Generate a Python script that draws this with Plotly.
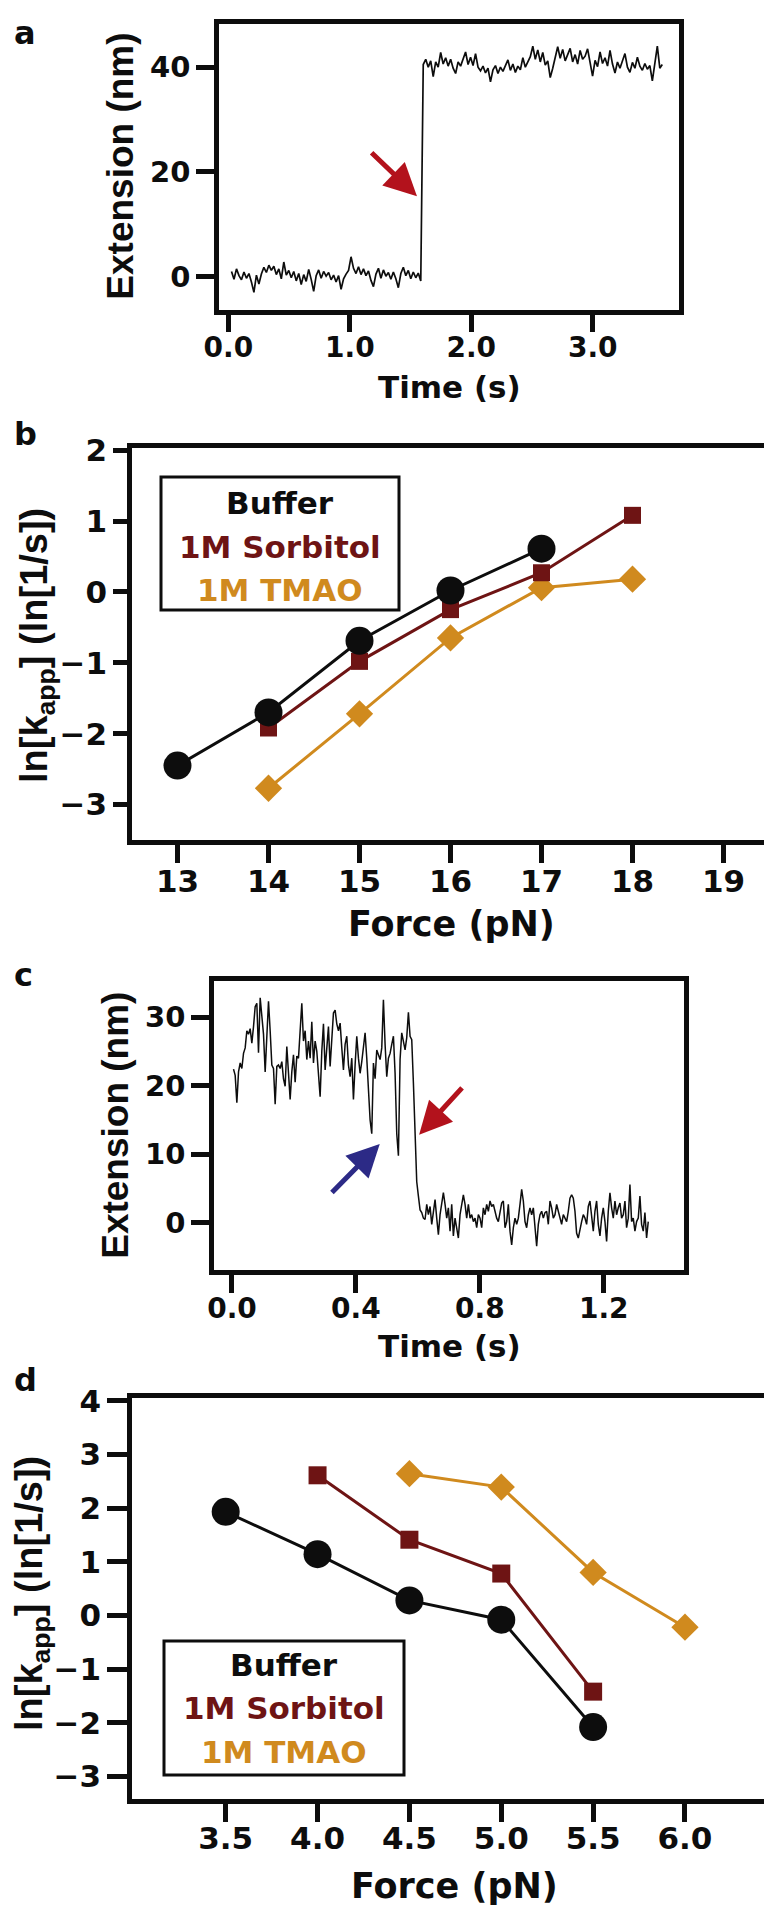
import numpy as np
import plotly.graph_objects as go

W, H = 772, 1907

# ---------------- Panel a : extension trace ----------------
A_T0, A_DT = 0.026, 0.0205
a_extension = [
    1.0, -0.5, 1.5, 0.2, -0.6, 0.9, -0.3, 0.6, -1.0, -3.0,
    0.3, -1.4, 0.5, 1.8, 0.8, 2.2, 1.2, 2.0, 0.4, 1.5,
    -0.4, 2.8, 0.3, 1.2, -0.2, 1.0, -0.8, 0.6, -1.5, 0.4,
    -0.9, 1.4, -0.5, -2.8, 0.2, 1.3, -0.3, 1.0, 0.1, 0.8,
    -0.6, 0.3, -1.0, 0.2, -2.4, -0.4, 0.5, 1.2, 3.8, 1.6,
    0.6, 1.9, 0.4, 1.5, 0.2, 1.1, -0.7, -1.9, 0.5, 1.6,
    -0.3, 1.3, 0.1, 0.8, -0.5, 0.9, -0.4, -2.1, 0.6, 1.8,
    0.2, 1.2, -0.4, 0.9, -0.2, 0.7, -0.8,
    40.5, 41.5, 40.0, 41.2, 38.2, 41.0, 40.0, 42.8, 40.6, 41.8,
    40.2, 41.5, 39.8, 38.8, 41.0, 40.2, 41.7, 42.9, 40.5, 41.9,
    40.3, 42.6, 40.0, 39.3, 40.2, 38.9, 39.8, 37.2, 39.5, 40.3,
    38.8, 40.0, 39.2, 40.5, 41.4, 39.4, 40.6, 39.0, 40.2, 39.5,
    41.8, 40.0, 40.9, 42.0, 44.0, 41.5, 43.3, 41.0, 42.8, 40.4,
    41.2, 38.0, 39.8, 41.6, 43.9, 41.7, 43.4, 41.2, 42.3, 43.6,
    41.0, 42.4, 40.6, 43.2, 41.5, 42.1, 43.5, 40.8, 38.3, 41.3,
    40.1, 42.9, 40.7, 41.8, 40.2, 43.2, 40.6, 38.9, 41.0, 39.8,
    41.3, 42.6, 40.0, 39.0, 40.9, 39.8, 41.9, 40.2, 39.4, 40.7,
    39.6, 40.3, 37.4, 40.5, 44.0, 39.8, 40.5,
]
a_xticks = [0, 1, 2, 3]
a_xticklabels = ["0.0", "1.0", "2.0", "3.0"]
a_yticks = [0, 20, 40]

# ---------------- Panel b : ln k vs force ----------------
b_force_buffer = [13, 14, 15, 16, 17]
b_lnk_buffer = [-2.45, -1.70, -0.69, 0.02, 0.61]
b_force_sorb = [14, 15, 16, 17, 18]
b_lnk_sorb = [-1.92, -0.98, -0.25, 0.27, 1.08]
b_force_tmao = [14, 15, 16, 17, 18]
b_lnk_tmao = [-2.77, -1.72, -0.65, 0.06, 0.18]
b_xticks = [13, 14, 15, 16, 17, 18, 19]
b_yticks = [-3, -2, -1, 0, 1, 2]

# ---------------- Panel c : extension trace ----------------
C_T0, C_DT = 0.005, 0.005376
c_extension = [
    22.4, 21.5, 17.5, 22.0, 23.3, 22.5, 24.7, 25.5, 28.0, 27.5,
    28.3, 26.2, 28.6, 31.5, 32.0, 24.8, 32.8, 30.0, 27.5, 22.0,
    27.0, 32.3, 28.0, 23.0, 22.5, 17.3, 22.8, 23.0, 22.5, 23.5,
    21.0, 19.9, 25.7, 21.5, 18.0, 22.0, 24.5, 20.5, 24.3, 24.0,
    27.5, 32.0, 26.5, 28.0, 23.8, 26.5, 24.0, 29.3, 23.3, 26.5,
    25.0, 22.0, 18.4, 25.0, 29.0, 22.3, 26.0, 28.6, 22.8, 27.0,
    30.6, 31.0, 29.0, 28.0, 29.1, 25.5, 22.3, 26.0, 27.2, 23.0,
    21.3, 24.0, 18.0, 23.0, 27.2, 24.0, 21.8, 23.5, 25.7, 27.7,
    24.0, 19.0, 15.0, 13.0, 23.3, 21.0, 25.2, 24.5, 23.8, 25.5,
    32.5, 26.0, 21.3, 24.0, 24.7, 26.0, 27.2, 21.8, 13.0, 9.8,
    23.8, 27.7, 26.5, 25.2, 27.0, 30.7, 27.2, 26.7, 20.4,
    12.0, 6.0, 3.9, 1.9, 1.5, 0.7, 0.5, 2.7, 1.2, 2.4,
    -0.2, 1.7, 3.4, 0.7, -1.7, 1.2, 2.7, 4.4, 2.7, 0.7,
    2.2, -1.2, 2.7, -1.9, 0.7, -0.7, -2.2, 1.2, 2.7, 4.1,
    2.7, 0.7, 2.7, 0.7, 1.2, 0.2, 0.7, -0.7, 1.2, 0.7,
    -0.7, 2.2, 1.2, 2.7, 1.7, 3.2, 2.4, 2.7, 1.7, 0.7,
    0.2, 1.7, 2.9, 3.2, -0.7, 0.2, 2.7, -1.2, -3.2, -0.7,
    0.7, -0.2, 0.7, 2.7, 4.9, 3.2, 0.2, -0.7, 1.2, 2.2,
    1.2, 2.2, -1.2, -3.4, -0.2, 1.2, 1.7, 0.7, 1.5, 1.7,
    -0.2, 3.2, 2.2, 0.7, 1.2, 2.7, 1.7, 0.7, -0.2, 1.2,
    0.7, 0.2, 1.7, 3.6, 4.1, 3.6, 1.7, -1.5, -2.2, -0.7,
    0.2, 1.2, 0.7, -0.2, 2.4, 3.2, 0.7, -1.2, 1.7, 3.2,
    -0.2, -1.9, 0.7, 2.2, 0.2, -2.7, 1.7, 4.4, 2.2, 0.7,
    3.2, 1.2, 2.2, 2.9, 0.7, 1.2, 3.2, -0.7, 0.7, 5.6,
    0.2, 0.7, -1.2, 0.2, 0.7, 3.9, -0.2, -1.2, 1.5, -2.2,
    0.2,
]
c_xticks = [0, 0.4, 0.8, 1.2]
c_xticklabels = ["0.0", "0.4", "0.8", "1.2"]
c_yticks = [0, 10, 20, 30]

# ---------------- Panel d : ln k vs force ----------------
d_force_buffer = [3.5, 4.0, 4.5, 5.0, 5.5]
d_lnk_buffer = [1.93, 1.14, 0.28, -0.08, -2.08]
d_force_sorb = [4.0, 4.5, 5.0, 5.5]
d_lnk_sorb = [2.61, 1.41, 0.78, -1.42]
d_force_tmao = [4.5, 5.0, 5.5, 6.0]
d_lnk_tmao = [2.64, 2.39, 0.80, -0.22]
d_xticks = [3.5, 4.0, 4.5, 5.0, 5.5, 6.0]
d_xticklabels = ["3.5", "4.0", "4.5", "5.0", "5.5", "6.0"]
d_yticks = [-3, -2, -1, 0, 1, 2, 3, 4]

series_names = ["Buffer", "1M Sorbitol", "1M TMAO"]

BLACK = "#0d0d0d"
SORB = "#6e1414"
TMAO = "#d08a1e"
RED = "#b3121c"
BLUE = "#2c2a86"
WIDE = "DejaVu Sans, Verdana, sans-serif"
NARROW = "Liberation Sans, Arial, Helvetica, sans-serif"


def px_x(p):
    return p / W


def px_y(p):
    return 1 - p / H


fig = go.Figure()

a_time = A_T0 + A_DT * np.arange(len(a_extension))
fig.add_trace(go.Scatter(x=a_time, y=a_extension, mode="lines",
                         line=dict(color=BLACK, width=1.7), xaxis="x", yaxis="y"))

c_time = C_T0 + C_DT * np.arange(len(c_extension))
fig.add_trace(go.Scatter(x=c_time, y=c_extension, mode="lines",
                         line=dict(color=BLACK, width=1.5), xaxis="x3", yaxis="y3"))


def add_series(xs, ys, color, symbol, size, xa, ya):
    fig.add_trace(go.Scatter(x=xs, y=ys, mode="lines+markers",
                             line=dict(color=color, width=3),
                             marker=dict(color=color, symbol=symbol, size=size,
                                         line=dict(width=0)),
                             xaxis=xa, yaxis=ya))


add_series(b_force_tmao, b_lnk_tmao, TMAO, "diamond", 21, "x2", "y2")
add_series(b_force_sorb, b_lnk_sorb, SORB, "square", 17, "x2", "y2")
add_series(b_force_buffer, b_lnk_buffer, BLACK, "circle", 28, "x2", "y2")

add_series(d_force_tmao, d_lnk_tmao, TMAO, "diamond", 21, "x4", "y4")
add_series(d_force_sorb, d_lnk_sorb, SORB, "square", 18, "x4", "y4")
add_series(d_force_buffer, d_lnk_buffer, BLACK, "circle", 28, "x4", "y4")


def font(size, color=BLACK, family=WIDE):
    return dict(family=family, size=size, color=color, weight="bold")


def ax(domain, rng, tickvals, ticktext=None, anchor="x", ticklen=18, tsize=28,
       lstand=0):
    d = dict(domain=domain, range=rng, tickvals=tickvals,
             showline=True, linewidth=4.5, linecolor=BLACK, mirror=True,
             ticks="outside", ticklen=ticklen, tickwidth=4.5, tickcolor=BLACK,
             showgrid=False, zeroline=False, tickfont=font(tsize),
             ticklabelstandoff=lstand,
             anchor=anchor, fixedrange=True, automargin=False)
    if ticktext is not None:
        d["ticktext"] = ticktext
    return d


lnk_title = "ln[k<sub>app</sub>] (ln[1/s])"

fig.update_layout(
    width=W, height=H,
    margin=dict(l=0, r=0, t=0, b=0, pad=0),
    paper_bgcolor="white", plot_bgcolor="white",
    showlegend=False,
    xaxis=ax([px_x(211), px_x(671)], [-0.077, 3.71], a_xticks, a_xticklabels,
             anchor="y", lstand=-9),
    yaxis=ax([px_y(301.7), px_y(15.7)], [-6.3, 48.3], a_yticks, None, anchor="x",
             tsize=29),
    xaxis2=ax([px_x(124), px_x(761)], [12.5, 19.5], b_xticks, None,
              anchor="y2", tsize=31, lstand=-8),
    yaxis2=ax([px_y(832), px_y(440)], [-3.5, 2.03], b_yticks, None,
              anchor="x2", ticklen=14, tsize=31),
    xaxis3=ax([px_x(206), px_x(676)], [-0.058, 1.459], c_xticks, c_xticklabels,
              anchor="y3", lstand=-9),
    yaxis3=ax([px_y(1262.3), px_y(973.3)], [-6.9, 35.2], c_yticks, None, anchor="x3",
              tsize=29),
    xaxis4=ax([px_x(124), px_x(767)], [2.99, 6.49], d_xticks, d_xticklabels,
              anchor="y4", tsize=31, lstand=-10),
    yaxis4=ax([px_y(1791), px_y(1390)], [-3.42, 4.05], d_yticks, None,
              anchor="x4", ticklen=20, tsize=31),
)

# axis titles (placed as text)
axis_titles = [
    ("Time (s)", 441, 379, 0, 31, WIDE),
    ("Extension (nm)", 113, 158.7, -90, 37, NARROW),
    ("Force (pN)", 443, 916, 0, 35, WIDE),
    (lnk_title, 29, 638, -90, 38, NARROW),
    ("Time (s)", 441, 1338, 0, 31, WIDE),
    ("Extension (nm)", 108, 1117.8, -90, 37, NARROW),
    ("Force (pN)", 446, 1878, 0, 35, WIDE),
    (lnk_title, 24, 1586, -90, 38, NARROW),
]
for txt, xc, yc, ang, sz, fam in axis_titles:
    fig.add_annotation(x=px_x(xc), y=px_y(yc), xref="paper", yref="paper",
                       text=txt, showarrow=False, textangle=ang,
                       xanchor="center", yanchor="middle", font=font(sz, BLACK, fam))

# panel letters
for letter, yc in [("a", 25), ("b", 426), ("c", 967), ("d", 1372)]:
    fig.add_annotation(x=px_x(4), y=px_y(yc), xref="paper", yref="paper",
                       text=letter, showarrow=False, xanchor="left", yanchor="middle",
                       font=font(32))

# legends
colors = [BLACK, SORB, TMAO]
for (x0, x1, y0, y1, ys) in [(153, 391, 469, 602, [495, 538.5, 582]),
                             (156, 396, 1633, 1767, [1656.5, 1700, 1743.5])]:
    fig.add_shape(type="rect", xref="paper", yref="paper",
                  x0=px_x(x0), x1=px_x(x1), y0=px_y(y1), y1=px_y(y0),
                  line=dict(color=BLACK, width=3), fillcolor="rgba(0,0,0,0)")
    for name, col, yy in zip(series_names, colors, ys):
        fig.add_annotation(x=px_x((x0 + x1) / 2), y=px_y(yy), xref="paper", yref="paper",
                           text=name, showarrow=False, xanchor="center", yanchor="middle",
                           font=font(31, col))

# arrows
arrow_specs = [
    ("x", "y", 1.167, 23.95, 1.553, 15.36, RED),
    ("x3", "y3", 0.747, 19.9, 0.604, 12.85, RED),
    ("x3", "y3", 0.318, 4.2, 0.477, 11.5, BLUE),
]
for xa, ya, tx, ty, hx, hy, col in arrow_specs:
    fig.add_annotation(x=hx, y=hy, ax=tx, ay=ty, xref=xa, yref=ya, axref=xa, ayref=ya,
                       text="", showarrow=True, arrowhead=2, arrowsize=1.3,
                       arrowwidth=5, arrowcolor=col, standoff=0)

fig.write_html("out.html")
